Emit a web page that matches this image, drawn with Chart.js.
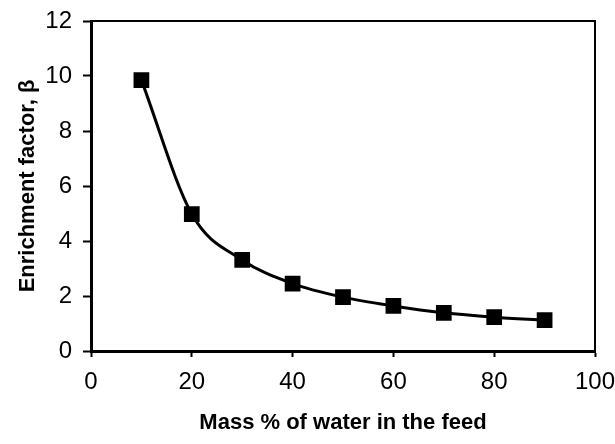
<!DOCTYPE html>
<html>
<head>
<meta charset="UTF-8">
<title>Enrichment factor</title>
<script src="https://cdn.jsdelivr.net/npm/chart.js"></script>
<style>
  html, body { margin: 0; padding: 0; background: #fff; }
  #wrap { width: 615px; height: 444px; }
</style>
</head>
<body>
<div id="wrap"><canvas id="c" width="615" height="444"></canvas></div>
<script>
// values
const waterMass = [10, 20, 30, 40, 50, 60, 70, 80, 90];
const beta = [9.85, 4.98, 3.31, 2.45, 1.96, 1.64, 1.39, 1.23, 1.12];
const xTitle = "Mass % of water in the feed";
const yTitle = "Enrichment factor, \u03b2";

const font = "'Liberation Sans', Arial, sans-serif";

// top and right frame lines
const frame = {
    id: 'frame',
    afterDraw(chart) {
        const a = chart.chartArea, ctx = chart.ctx;
        ctx.save();
        ctx.strokeStyle = '#000';
        ctx.lineWidth = 2;
        ctx.beginPath();
        ctx.moveTo(a.left, a.top);
        ctx.lineTo(a.right, a.top);
        ctx.lineTo(a.right, a.bottom);
        ctx.stroke();
        ctx.restore();
    }
};

new Chart(document.getElementById('c'), {
    type: 'line',
    data: {
        datasets: [{
            data: waterMass.map((x, i) => ({ x: x, y: beta[i] })),
            borderColor: '#000',
            backgroundColor: '#000',
            borderWidth: 3,
            cubicInterpolationMode: 'monotone',
            pointStyle: 'rect',
            pointRadius: 9,
            pointHoverRadius: 9
        }]
    },
    options: {
        responsive: false,
        animation: false,
        layout: { padding: { top: 0, right: 0, left: 0, bottom: 0 } },
        plugins: { legend: { display: false }, tooltip: { enabled: false } },
        scales: {
            x: {
                type: 'linear',
                min: 0, max: 100,
                ticks: { stepSize: 20, color: '#000', font: { family: font, size: 24 }, padding: 11, maxRotation: 0 },
                grid: { drawOnChartArea: false, tickLength: 6, color: '#000', tickWidth: 2 },
                border: { color: '#000', width: 3 },
                title: { display: true, text: xTitle, color: '#000', font: { family: font, size: 22, weight: 'bold' }, padding: { top: 0, bottom: 8 } },
                afterFit(s) { s.height = 93; s.paddingRight = 20; s.paddingLeft = 0; }
            },
            y: {
                min: 0, max: 12,
                ticks: { stepSize: 2, color: '#000', font: { family: font, size: 24 }, padding: 11 },
                grid: { drawOnChartArea: false, tickLength: 8, color: '#000', tickWidth: 2 },
                border: { color: '#000', width: 3 },
                title: { display: true, text: yTitle, color: '#000', font: { family: font, size: 22, weight: 'bold' }, padding: { top: 15, bottom: 0 } },
                afterFit(s) { s.width = 91; s.paddingTop = 21; s.paddingBottom = 0; }
            }
        }
    },
    plugins: [frame]
});
</script>
</body>
</html>
